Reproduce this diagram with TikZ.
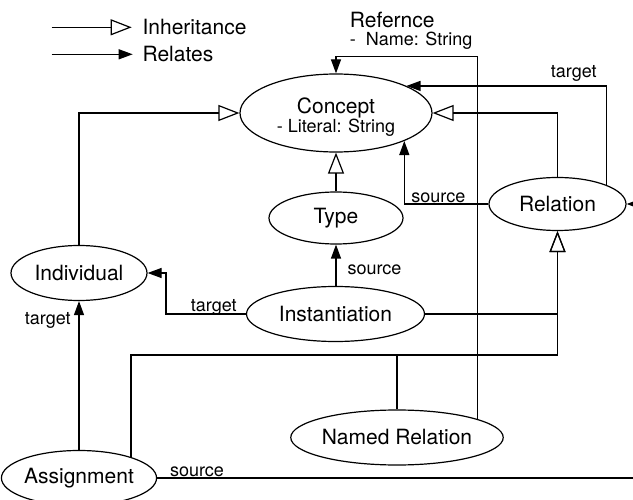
\documentclass[tikz,border=0pt]{standalone}
\usepackage{fontspec}
\setmainfont{TeX Gyre Heros}
\usetikzlibrary{arrows.meta,shapes.geometric}
\newcommand\mainf{\fontsize{21}{24}\selectfont}
\newcommand\lblf{\fontsize{18}{20}\selectfont}
\begin{document}
\begin{tikzpicture}[x=1pt,y=-1pt,line width=1.2pt,
  inh/.style={-{Triangle[open,length=21pt,width=16pt]}},
  rel/.style={-{Triangle[length=14pt,width=10pt]}},
  ent/.style={draw,ellipse,inner sep=0pt,font=\mainf},
  lbl/.style={font=\lblf,inner sep=0pt},
  leg/.style={font=\mainf,inner sep=0pt,anchor=base west}]
\useasboundingbox (0,0) rectangle (633,500);
% legend
\coordinate (la) at (51.7,27.3);
\coordinate (lb) at (131.7,27.3);
\coordinate (lc) at (51.7,54.3);
\coordinate (ld) at (132.7,54.3);
\draw[inh] (la) -- (lb);
\draw[rel] (lc) -- (ld);
\node[leg] (linh) at (142,34.3) {Inheritance};
\node[leg] (lrel) at (142,61.5) {Relates};
% entities
\node[ent,minimum width=192pt,minimum height=78pt,align=center] (con) at (336,113)
  {\rule{0pt}{23pt}Concept\\[-5pt]{\lblf - Literal: String}};
\node[ent,minimum width=134pt,minimum height=52pt] (type) at (336,218) {Type};
\node[ent,minimum width=137pt,minimum height=53pt] (rel) at (557.5,204) {Relation};
\node[ent,minimum width=136pt,minimum height=55pt] (ind) at (79,273) {Individual};
\node[ent,minimum width=178pt,minimum height=55pt] (inst) at (335.5,314) {Instantiation};
\node[ent,minimum width=212pt,minimum height=55pt] (nr) at (397,437.5) {Named Relation};
\node[ent,minimum width=136pt,minimum height=55pt] (asg) at (79,478) {Assignment};
% reference label
\node[leg] (refn) at (349.3,27.3) {Refernce};
\node[lbl,anchor=base west] (refa) at (349.3,45.7) {-\ \ Name: String};
% connectors
\draw[inh] (ind.north) |- (con.west);
\draw[rel] (inst.west) -- ++(-80,0) |- (ind.east);
\node[lbl,anchor=base] (t1) at (213.7,311.7) {target};
\draw[rel] (asg.north) -- (ind.south);
\node[lbl,anchor=base] (t2) at (47.8,325) {target};
\draw[rel] (inst.north -| type.south) -- (type.south);
\node[lbl,anchor=base] (s1) at (374.5,274.3) {source};
\draw[inh] (type.north) -- (con.south);
\draw[rel] (rel.west) -| (con.south east);
\node[lbl,anchor=base] (s2) at (438.3,202.3) {source};
\draw[inh] (rel.north) |- (con.east);
\draw[rel] (rel.21) |- (con.21);
\node[lbl,anchor=base] (t3) at (573.7,77.3) {target};
\coordinate (refc) at (472.3,56.7);
\draw[rel] (nr.13.8) -- (nr.13.8 |- refc) -| (con.north);
\draw[inh] (inst.east) -| (rel.south);
\coordinate (j) at (557.5,355);
\draw[inh] (asg.22) |- (j) -- (rel.south);
\draw (nr.north) -- (nr.north |- j);
\coordinate (sr) at (645,204);
\draw[rel] (asg.east) -| (sr) -- (rel.east);
\node[lbl,anchor=base] (s3) at (197,476.7) {source};
\end{tikzpicture}
\end{document}
